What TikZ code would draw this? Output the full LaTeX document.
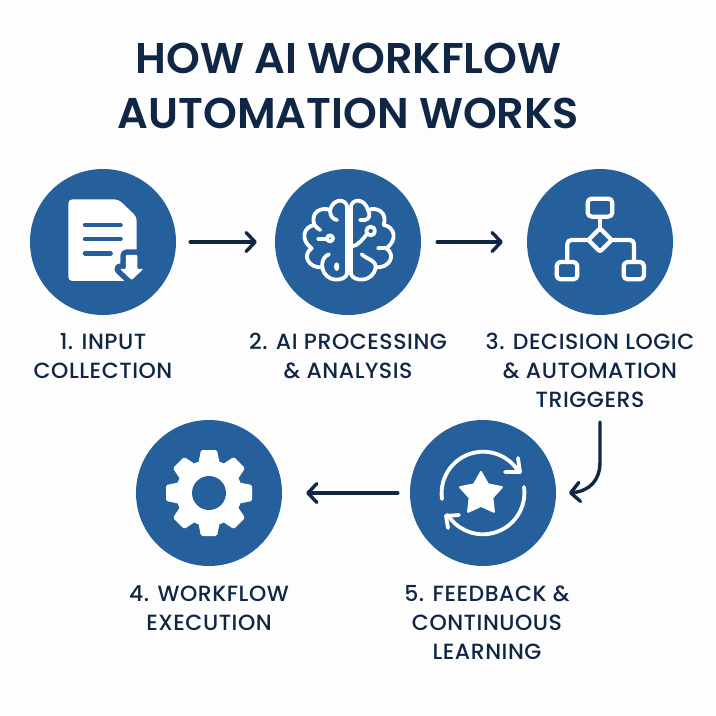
\documentclass[tikz,border=0pt]{standalone}
\usepackage{fontspec}
\setmainfont{Poppins Medium}[LetterSpace=2.5]
\newfontfamily\titlefont{Poppins SemiBold}
\usetikzlibrary{arrows.meta,shapes.geometric}
\definecolor{navy}{HTML}{0F2745}
\definecolor{disc}{HTML}{26609C}
\definecolor{paper}{HTML}{FDFDFD}
\tikzset{
  stepdisc/.style={circle,fill=disc,minimum size=146pt,inner sep=0pt},
  steplabel/.style={anchor=north,align=center,text=navy,font=\fontsize{22}{29}\selectfont},
  flow/.style={draw=navy,line width=3.4pt,line cap=round,line join=round,-{Straight Barb[length=9pt,width=19pt,round]}},
  icon/.style={draw=white,line width=4.2pt,line cap=round,line join=round},
  brainline/.style={draw=white,line width=3.8pt,line cap=round,line join=round}
}
\begin{document}
\begin{tikzpicture}[x=1pt,y=-1pt]
\useasboundingbox[fill=paper] (0,0) rectangle (716,716);
\node[text=navy,align=center,font=\titlefont\fontsize{43}{55}\selectfont] (title) at (348.5,86) {HOW AI WORKFLOW\\AUTOMATION WORKS};
% discs
\node[stepdisc] (input) at (103,242) {};
\node[stepdisc] (brain) at (348,242) {};
\node[stepdisc] (logic) at (600,242) {};
\node[stepdisc] (gear) at (209,493) {};
\node[stepdisc] (loop) at (483,493) {};
% labels
\node[steplabel] (inputtext) at (103,330) {1. INPUT\\COLLECTION};
\node[steplabel] (braintext) at (348,330) {2. AI PROCESSING\\\&\ ANALYSIS};
\node[steplabel] (logictext) at (590,330) {3. DECISION LOGIC\\\&\ AUTOMATION\\TRIGGERS};
\node[steplabel] (geartext) at (209,582) {4. WORKFLOW\\EXECUTION};
\node[steplabel] (looptext) at (487,582) {5. FEEDBACK \&\\CONTINUOUS\\LEARNING};
% arrows
\draw[flow,shorten <=14pt,shorten >=18pt] (input) -- (brain);
\draw[flow,shorten <=16pt,shorten >=24pt] (brain) -- (logic);
\draw[flow,shorten <=12pt,shorten >=24pt] (loop) -- (gear);
\coordinate (bendstart) at (600,422);
\coordinate (bendend) at (569,493);
\draw[flow] (bendstart) -- (600,462) .. controls (600,480) and (590,491) .. (bendend);
% document
\begin{scope}[shift={(20,170)},x=.3333pt,y=-.3333pt]
\fill[white,rounded corners=4pt] (145,88) -- (295,88) -- (350,140) -- (350,333) -- (145,333) -- cycle;
\draw[disc,line width=4.4pt,line cap=round] (195,165) -- (302,165);
\draw[disc,line width=4.4pt,line cap=round] (195,207) -- (302,207);
\draw[disc,line width=4.4pt,line cap=round] (195,250) -- (272,250);
\draw[disc,line width=11pt,line join=round,fill=disc] (318,255) -- (352,255) -- (352,297) -- (370,297) -- (335,330) -- (300,297) -- (318,297) -- cycle;
\fill[white,rounded corners=1pt] (318,255) -- (352,255) -- (352,297) -- (370,297) -- (335,330) -- (300,297) -- (318,297) -- cycle;
\end{scope}
% brain
\begin{scope}[shift={(265,170)},x=.3333pt,y=-.3333pt]
\draw[brainline] (246,108) -- (246,312) .. controls (240,335) and (180,340) .. (172,292)
  .. controls (130,295) and (110,255) .. (140,235) .. controls (105,210) and (115,170) .. (148,165)
  .. controls (135,125) and (170,110) .. (195,120) .. controls (205,85) and (240,85) .. (246,108);
\draw[brainline] (258,108) -- (258,312) .. controls (264,335) and (324,340) .. (332,292)
  .. controls (374,295) and (394,255) .. (364,235) .. controls (399,210) and (389,170) .. (356,165)
  .. controls (369,125) and (334,110) .. (309,120) .. controls (299,85) and (264,85) .. (258,108);
\draw[brainline] (195,120) .. controls (195,140) and (205,148) .. (216,150);
\draw[brainline] (148,165) .. controls (155,172) and (160,178) .. (166,180);
\draw[brainline] (160,207) -- (185,207);
\draw[brainline] (195,205) circle (9);
\draw[brainline] (172,292) .. controls (170,270) and (178,258) .. (192,253);
\fill[white] (215,290) ellipse (8 and 13);
\draw[brainline] (285,150) -- (300,150) .. controls (312,148) and (318,135) .. (309,120);
\draw[brainline] (258,230) .. controls (280,228) and (295,205) .. (306,192);
\draw[brainline] (317,183) circle (13);
\draw[brainline] (340,235) -- (364,235);
\draw[brainline] (332,292) .. controls (332,270) and (310,270) .. (290,253);
\end{scope}
% flowchart
\begin{scope}[shift={(520,170)},x=.3333pt,y=-.3333pt]
\draw[icon,rounded corners=4pt] (203,86) rectangle (277,140);
\draw[icon,rounded corners=2pt] (240,175) -- (275,210) -- (240,245) -- (205,210) -- cycle;
\draw[icon] (240,140) -- (240,175);
\draw[icon,rounded corners=4pt] (205,210) -- (142,210) -- (142,276);
\draw[icon,rounded corners=4pt] (275,210) -- (342,210) -- (342,276);
\draw[icon,rounded corners=4pt] (110,276) rectangle (172,328);
\draw[icon,rounded corners=4pt] (311,276) rectangle (372,328);
\end{scope}
% gear
\begin{scope}[shift={(209,493)}]
\fill[white] (0,0) circle (33);
\foreach \ang in {0,45,...,315}
  \fill[white,rounded corners=1.5pt,rotate=\ang] (-11,-28) -- (-8,-43) -- (8,-43) -- (11,-28) -- cycle;
\fill[disc] (0,0) circle (17);
\end{scope}
% cycle
\begin{scope}[shift={(483,493)}]
\draw[brainline] (-41,6) arc[start angle=172,end angle=330,radius=41.5];
\draw[brainline] (35,-35) -- (37,-21) -- (22,-21);
\draw[brainline] (41,-6) arc[start angle=-8,end angle=148,radius=41.5];
\draw[brainline] (-24,22) -- (-37,23) -- (-35,35);
\node[star,star points=5,star point ratio=1.85,fill=white,draw=white,line width=2pt,line join=round,minimum size=44pt,inner sep=0pt] (fivestar) at (-2,1) {};
\end{scope}
\end{tikzpicture}
\end{document}
